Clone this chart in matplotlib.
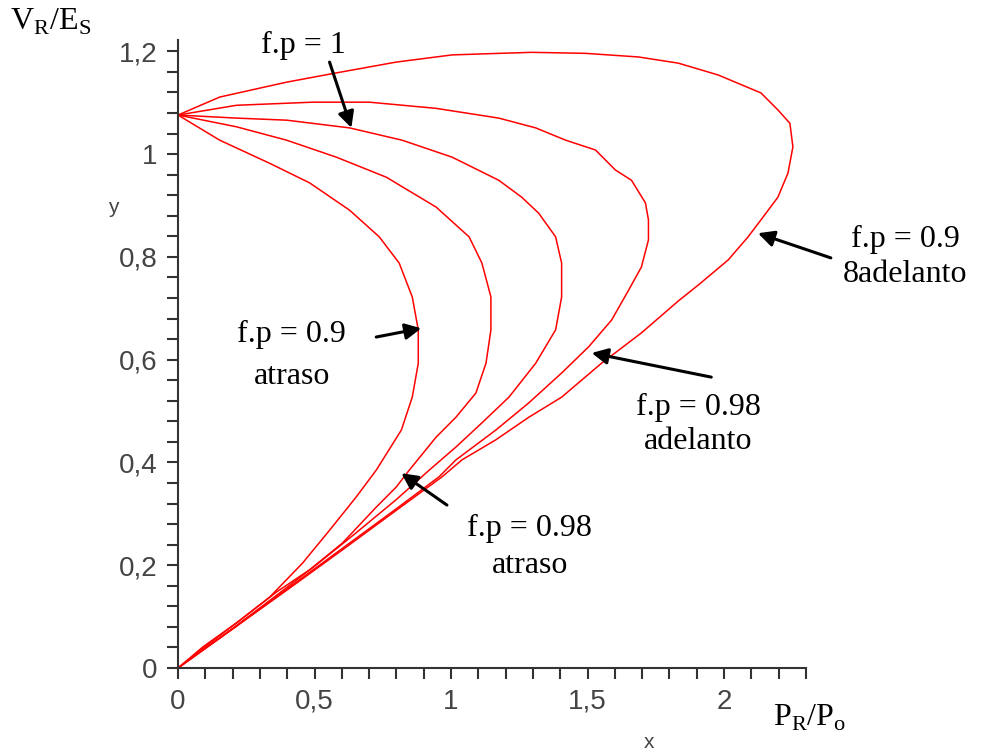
import numpy as np
import matplotlib
matplotlib.use("Agg")
import matplotlib.pyplot as plt

plt.rcParams['mathtext.fontset'] = 'custom'
plt.rcParams['mathtext.rm'] = 'Liberation Serif'

# curves (P_R/P_o, V_R/E_S)
fp09_atraso_x = [0, 0.153, 0.336, 0.482, 0.628, 0.737, 0.810, 0.858, 0.880, 0.880, 0.858,
                 0.818, 0.726, 0.653, 0.555, 0.456, 0.336, 0.215, 0.091, 0]
fp09_atraso_y = [1.076, 1.027, 0.982, 0.944, 0.891, 0.839, 0.788, 0.722, 0.658, 0.593, 0.527,
                 0.463, 0.385, 0.333, 0.268, 0.204, 0.138, 0.088, 0.041, 0]

fp098_atraso_x = [0, 0.215, 0.398, 0.580, 0.763, 0.945, 1.066, 1.113, 1.146, 1.146, 1.128,
                  1.091, 1.018, 0.945, 0.847, 0.799, 0.726, 0.602, 0.482, 0.361, 0.237, 0.091, 0]
fp098_atraso_y = [1.076, 1.053, 1.027, 0.994, 0.955, 0.897, 0.839, 0.788, 0.722, 0.658, 0.593,
                  0.535, 0.488, 0.449, 0.385, 0.352, 0.313, 0.243, 0.191, 0.148, 0.097, 0.038, 0]

fp1_x = [0, 0.215, 0.398, 0.628, 0.821, 1.004, 1.175, 1.259, 1.321, 1.383, 1.405, 1.405,
         1.383, 1.310, 1.212, 1.113, 1.018, 0.920, 0.80, 0.65, 0.50, 0.35, 0.20, 0]
fp1_y = [1.076, 1.070, 1.066, 1.051, 1.027, 0.994, 0.949, 0.916, 0.885, 0.839, 0.788, 0.722,
         0.658, 0.593, 0.527, 0.477, 0.430, 0.385, 0.328, 0.262, 0.198, 0.137, 0.077, 0]

fp098_adel_x = [0, 0.215, 0.493, 0.701, 0.945, 1.175, 1.310, 1.420, 1.529, 1.602, 1.661, 1.712,
                1.723, 1.723, 1.697, 1.650, 1.588, 1.504, 1.405, 1.285, 1.164, 1.018, 0.956,
                0.80, 0.60, 0.40, 0.20, 0]
fp098_adel_y = [1.076, 1.095, 1.101, 1.101, 1.089, 1.070, 1.051, 1.027, 1.008, 0.969, 0.949, 0.905,
                0.872, 0.833, 0.780, 0.735, 0.677, 0.625, 0.574, 0.516, 0.463, 0.405, 0.372,
                0.310, 0.232, 0.154, 0.076, 0]

fp09_adel_x = [0, 0.153, 0.398, 0.580, 0.799, 1.004, 1.175, 1.296, 1.493, 1.686, 1.832, 1.978,
               2.135, 2.197, 2.241, 2.252, 2.234, 2.197, 2.135, 2.088, 2.015, 1.905, 1.832,
               1.697, 1.551, 1.405, 1.285, 1.164, 1.040, 0.967, 0.80, 0.60, 0.40, 0.20, 0]
fp09_adel_y = [1.076, 1.111, 1.140, 1.158, 1.179, 1.193, 1.196, 1.198, 1.196, 1.189, 1.177, 1.154,
               1.119, 1.086, 1.060, 1.014, 0.963, 0.916, 0.872, 0.839, 0.794, 0.745, 0.714,
               0.652, 0.593, 0.527, 0.488, 0.444, 0.405, 0.372, 0.307, 0.229, 0.152, 0.076, 0]

curves = [(fp09_atraso_x, fp09_atraso_y), (fp098_atraso_x, fp098_atraso_y), (fp1_x, fp1_y),
          (fp098_adel_x, fp098_adel_y), (fp09_adel_x, fp09_adel_y)]

xtick_vals = [0, 0.5, 1, 1.5, 2]
xtick_labels = ['0', '0,5', '1', '1,5', '2']
ytick_vals = [0, 0.2, 0.4, 0.6, 0.8, 1, 1.2]
ytick_labels = ['0', '0,2', '0,4', '0,6', '0,8', '1', '1,2']

fig = plt.figure(figsize=(9.81, 7.53), dpi=100)
ax = fig.add_axes([178 / 981, 85 / 753, 628 / 981, 628 / 753])

for cx, cy in curves:
    ax.plot(cx, cy, color='#ff0000', lw=1.1, clip_on=False, solid_joinstyle='round')

ax.set_xlim(0, 2.29)
ax.set_ylim(0, 1.222)
for s in ['top', 'right']:
    ax.spines[s].set_visible(False)
for s in ['left', 'bottom']:
    ax.spines[s].set_linewidth(1.5)
    ax.spines[s].set_color('#333333')

ax.set_xticks(xtick_vals)
ax.set_xticklabels(xtick_labels)
ax.set_yticks(ytick_vals)
ax.set_yticklabels(ytick_labels)
ax.set_xticks(np.arange(0, 2.31, 0.1), minor=True)
ax.set_yticks(np.arange(0, 1.23, 0.04), minor=True)
ax.tick_params(which='both', direction='out', length=8, width=1.5, color='#333333')
ax.tick_params(which='major', labelsize=20, labelcolor='#444444', pad=7)
for lab in ax.get_xticklabels() + ax.get_yticklabels():
    lab.set_fontfamily('Liberation Sans')

ax.text(-0.237, 0.897, 'y', fontsize=15, family='Liberation Sans', color='#444444',
        ha='center', va='center')
ax.text(1.726, -0.144, 'x', fontsize=15, family='Liberation Sans', color='#444444',
        ha='center', va='center', clip_on=False)

serif = dict(fontsize=23, family='Liberation Serif', ha='center', va='center')
ax.text(-0.467, 1.257, r'V$_\mathrm{R}$/E$_\mathrm{S}$', **serif)
ax.text(2.314, -0.097, r'P$_\mathrm{R}$/P$_\mathrm{o}$', **serif)

labels = [('f.p = 1', 0.460, 1.212),
          ('f.p = 0.9', 0.416, 0.648), ('atraso', 0.416, 0.568),
          ('f.p = 0.98', 1.288, 0.272), ('atraso', 1.288, 0.200),
          ('f.p = 0.98', 1.905, 0.506), ('adelanto', 1.905, 0.440),
          ('f.p = 0.9', 2.664, 0.833), ('8adelanto', 2.664, 0.765)]
for t, x, y in labels:
    ax.text(x, y, t, **serif)

arrows = [((0.555, 1.179), (0.635, 1.051)),
          ((0.726, 0.644), (0.891, 0.661)),
          ((0.985, 0.317), (0.818, 0.379)),
          ((1.953, 0.566), (1.515, 0.613)),
          ((2.391, 0.798), (2.124, 0.846))]
for tail, tip in arrows:
    ax.annotate('', xy=tip, xytext=tail, annotation_clip=False,
                arrowprops=dict(arrowstyle='-|>', color='k', lw=2.2, mutation_scale=24,
                                shrinkA=0, shrinkB=0))

fig.savefig('out.png', dpi=100)
